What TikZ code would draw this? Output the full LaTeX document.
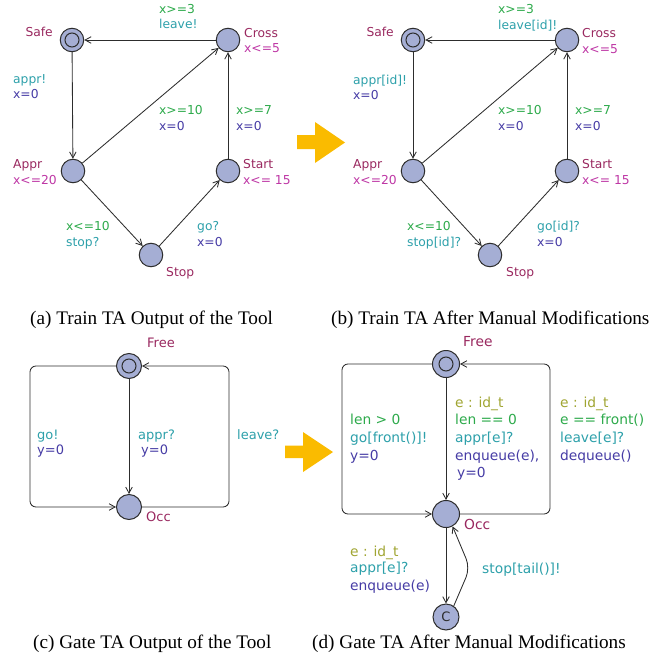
\documentclass[tikz,border=0pt]{standalone}
\usepackage{fontspec}
\setmainfont{Liberation Serif}
\newfontfamily\uppfont{DejaVu Sans}
\usetikzlibrary{arrows.meta}
\definecolor{locfill}{RGB}{165,174,212}
\definecolor{linec}{RGB}{45,45,45}
\definecolor{locname}{RGB}{153,40,95}
\definecolor{inv}{RGB}{190,55,165}
\definecolor{guard}{RGB}{45,170,75}
\definecolor{sync}{RGB}{45,160,170}
\definecolor{upd}{RGB}{70,60,165}
\definecolor{selc}{RGB}{160,165,50}
\definecolor{arrowy}{RGB}{250,187,0}
\begin{document}
\begin{tikzpicture}[x=1pt,y=-1pt,
  loc/.style={circle, draw=linec, fill=locfill, line width=1pt, minimum size=23.5pt, inner sep=0pt},
  initloc/.style={loc, path picture={\draw[linec, line width=1pt] (path picture bounding box.center) circle (7pt);}},
  edge/.style={draw=linec, line width=0.85pt, -{Straight Barb[length=6pt,width=6.5pt]}},
  lblA/.style={font=\uppfont\fontsize{12.3}{14}\selectfont, inner sep=0pt, anchor=base west},
  lblC/.style={font=\uppfont\fontsize{13}{15}\selectfont, inner sep=0pt, anchor=base west},
  lblD/.style={font=\uppfont\fontsize{13.8}{16}\selectfont, inner sep=0pt, anchor=base west},
  captext/.style={font=\fontsize{19.2}{22}\selectfont, inner sep=0pt, anchor=base west},
  bigarrow/.style={fill=arrowy}
]
\useasboundingbox (0,0) rectangle (648,658);

% ---------------- panel (a)
\node[initloc] (aSafe) at (72,40) {};
\node[loc] (aCross) at (228,40) {};
\node[loc] (aAppr) at (73,171) {};
\node[loc] (aStart) at (228,171) {};
\node[loc] (aStop) at (151,255) {};
\draw[edge] (aCross) -- (aSafe);
\draw[edge] (aSafe) -- (aAppr);
\draw[edge] (aAppr) -- (aCross);
\draw[edge] (aStart) -- (aCross);
\draw[edge] (aAppr) -- (aStop);
\draw[edge] (aStop) -- (aStart);
\node[lblA, anchor=base east, text=locname] (aSafeN) at (53,37) {Safe};
\node[lblA, text=locname] (aCrossN) at (244,38) {Cross};
\node[lblA, text=inv] (aCrossI) at (244,53) {x<=5};
\node[lblA, text=guard] (a1g) at (159,14) {x>=3};
\node[lblA, text=sync] (a1s) at (159,29) {leave!};
\node[lblA, text=sync] (a2s) at (13,84) {appr!};
\node[lblA, text=upd] (a2u) at (13,99) {x=0};
\node[lblA, text=guard] (a3g) at (159,114) {x>=10};
\node[lblA, text=upd] (a3u) at (159,130) {x=0};
\node[lblA, text=guard] (a4g) at (236,114) {x>=7};
\node[lblA, text=upd] (a4u) at (236,130) {x=0};
\node[lblA, text=locname] (aApprN) at (13,168) {Appr};
\node[lblA, text=inv] (aApprI) at (13,184) {x<=20};
\node[lblA, text=locname] (aStartN) at (243,168) {Start};
\node[lblA, text=inv] (aStartI) at (243,184) {x<= 15};
\node[lblA, text=guard] (a5g) at (66,230) {x<=10};
\node[lblA, text=sync] (a5s) at (66,246) {stop?};
\node[lblA, text=sync] (a6s) at (197,230) {go?};
\node[lblA, text=upd] (a6u) at (197,246) {x=0};
\node[lblA, text=locname] (aStopN) at (166,276) {Stop};

% ---------------- panel (b)
\node[initloc] (bSafe) at (413,40) {};
\node[loc] (bCross) at (567,40) {};
\node[loc] (bAppr) at (413,171) {};
\node[loc] (bStart) at (567,171) {};
\node[loc] (bStop) at (490,255) {};
\draw[edge] (bCross) -- (bSafe);
\draw[edge] (bSafe) -- (bAppr);
\draw[edge] (bAppr) -- (bCross);
\draw[edge] (bStart) -- (bCross);
\draw[edge] (bAppr) -- (bStop);
\draw[edge] (bStop) -- (bStart);
\node[lblA, anchor=base east, text=locname] (bSafeN) at (394,37) {Safe};
\node[lblA, text=locname] (bCrossN) at (582,38) {Cross};
\node[lblA, text=inv] (bCrossI) at (582,54) {x<=5};
\node[lblA, text=guard] (b1g) at (498,14) {x>=3};
\node[lblA, text=sync] (b1s) at (498,30) {leave[id]!};
\node[lblA, text=sync] (b2s) at (353,85) {appr[id]!};
\node[lblA, text=upd] (b2u) at (353,100) {x=0};
\node[lblA, text=guard] (b3g) at (498,115) {x>=10};
\node[lblA, text=upd] (b3u) at (498,131) {x=0};
\node[lblA, text=guard] (b4g) at (575,115) {x>=7};
\node[lblA, text=upd] (b4u) at (575,131) {x=0};
\node[lblA, text=locname] (bApprN) at (353,168) {Appr};
\node[lblA, text=inv] (bApprI) at (353,184) {x<=20};
\node[lblA, text=locname] (bStartN) at (582,168) {Start};
\node[lblA, text=inv] (bStartI) at (582,184) {x<= 15};
\node[lblA, text=guard] (b5g) at (407,230) {x<=10};
\node[lblA, text=sync] (b5s) at (407,246) {stop[id]?};
\node[lblA, text=sync] (b6s) at (537,230) {go[id]?};
\node[lblA, text=upd] (b6u) at (537,246) {x=0};
\node[lblA, text=locname] (bStopN) at (506,276) {Stop};

% ---------------- panel (c)
\node[initloc, minimum size=25pt] (cFree) at (129,366) {};
\node[loc, minimum size=25pt] (cOcc) at (129,507) {};
\coordinate (cL) at (30,436);
\coordinate (cR) at (229,436);
\draw[edge] (cFree) -- (cOcc);
\draw[edge, rounded corners=6pt] (cFree.west) -| (cL) |- (cOcc.west);
\draw[edge, rounded corners=6pt] (cOcc.east) -| (cR) |- (cFree.east);
\node[lblC, text=locname] (cFreeN) at (147,347.5) {Free};
\node[lblC, text=locname] (cOccN) at (146,521.5) {Occ};
\node[lblC, text=sync] (c1s) at (37,439.5) {go!};
\node[lblC, text=upd] (c1u) at (37,454.5) {y=0};
\node[lblC, text=sync] (c2s) at (138,439.5) {appr?};
\node[lblC, text=upd] (c2u) at (141,454.5) {y=0};
\node[lblC, text=sync] (c3s) at (237,439.5) {leave?};

% ---------------- panel (d)
\node[initloc, minimum size=27pt] (dFree) at (446,364) {};
\node[loc, minimum size=27pt] (dOcc) at (446,514) {};
\node[loc, minimum size=26pt, font=\uppfont\fontsize{13}{15}\selectfont, text=linec] (dC) at (446,617) {C};
\coordinate (dL) at (342,440);
\coordinate (dR) at (550,440);
\coordinate (dK) at (470,568);
\draw[edge] (dFree) -- (dOcc);
\draw[edge, rounded corners=6pt] (dFree.west) -| (dL) |- (dOcc.west);
\draw[edge, rounded corners=6pt] (dOcc.east) -| (dR) |- (dFree.east);
\draw[edge] (dOcc) -- (dC);
\draw[edge, rounded corners=10pt] (dC.55) -- (dK) -- (dOcc.-62);
\node[lblD, text=locname] (dFreeN) at (463,346) {Free};
\node[lblD, text=selc] (d1e) at (455,407) {e : id\_t};
\node[lblD, text=guard] (d1g) at (455,424) {len == 0};
\node[lblD, text=sync] (d1s) at (455,442) {appr[e]?};
\node[lblD, text=upd] (d1u) at (455,460) {enqueue(e),};
\node[lblD, text=upd] (d1v) at (457,477) {y=0};
\node[lblD, text=guard] (d2g) at (350,424) {len > 0};
\node[lblD, text=sync] (d2s) at (350,442) {go[front()]!};
\node[lblD, text=upd] (d2u) at (350,460) {y=0};
\node[lblD, text=selc] (d3e) at (560,407) {e : id\_t};
\node[lblD, text=guard] (d3g) at (560,424) {e == front()};
\node[lblD, text=sync] (d3s) at (560,442) {leave[e]?};
\node[lblD, text=upd] (d3u) at (560,460) {dequeue()};
\node[lblD, text=locname] (dOccN) at (464,529) {Occ};
\node[lblD, text=selc] (d4e) at (350,556) {e : id\_t};
\node[lblD, text=sync] (d4s) at (350,572) {appr[e]?};
\node[lblD, text=upd] (d4u) at (350,590) {enqueue(e)};
\node[lblD, text=sync] (d5s) at (482,573) {stop[tail()]!};

% ---------------- big arrows
\fill[bigarrow] (297,135) -- (315,135) -- (315,122) -- (345,142.5) -- (315,163) -- (315,149) -- (297,149) -- cycle;
\fill[bigarrow] (285,445.5) -- (303,445.5) -- (303,432) -- (333,452) -- (303,472) -- (303,458) -- (285,458) -- cycle;

% ---------------- captions
\node[captext] (capA) at (30,324) {(a) Train TA Output of the Tool};
\node[captext] (capB) at (331,324) {(b) Train TA After Manual Modifications};
\node[captext] (capC) at (33,648) {(c) Gate TA Output of the Tool};
\node[captext] (capD) at (312,648) {(d) Gate TA After Manual Modifications};
\end{tikzpicture}
\end{document}
